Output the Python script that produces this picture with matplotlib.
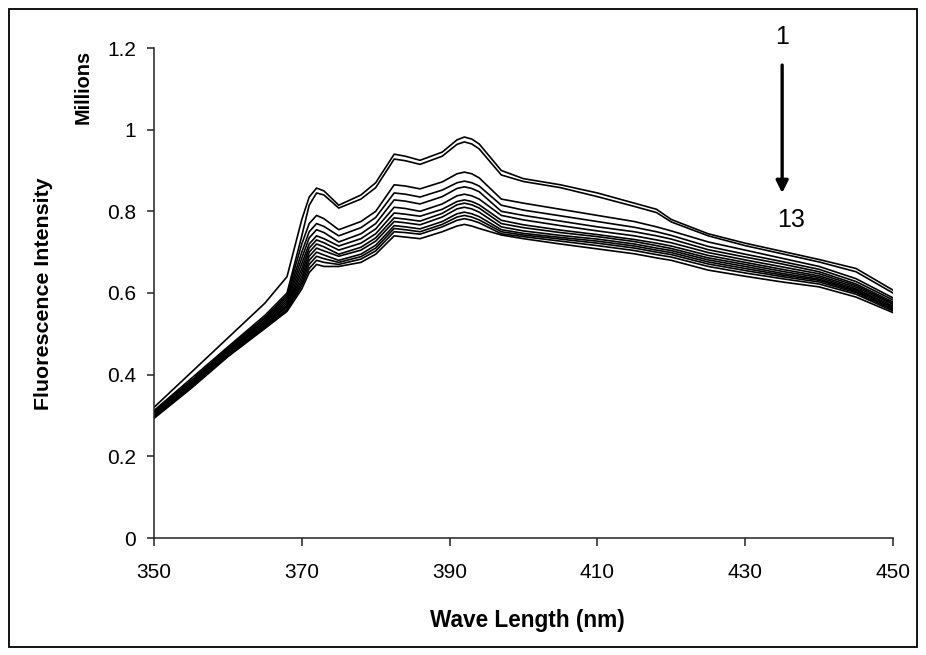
import matplotlib
matplotlib.use("Agg")
import matplotlib.pyplot as plt
from matplotlib.patches import Rectangle
from matplotlib.ticker import FuncFormatter

plt.rcParams['font.family'] = ['Liberation Sans', 'DejaVu Sans']

wavelength = [350, 355, 360, 365, 368, 370, 371, 372, 373, 375, 378, 380, 382.5, 384, 386, 389,
              391, 392, 393, 394, 397, 400, 405, 410, 415, 418, 420, 425, 430, 435, 440, 445, 450]

# Fluorescence intensity (millions), curves 1..13
c1 = [0.320, 0.405, 0.490, 0.575, 0.640, 0.780, 0.835, 0.857, 0.850, 0.815, 0.840, 0.870, 0.940, 0.935, 0.925, 0.945,
      0.975, 0.982, 0.977, 0.965, 0.900, 0.880, 0.865, 0.845, 0.820, 0.805, 0.780, 0.745, 0.722, 0.702, 0.682, 0.660, 0.607]
c2 = [0.312, 0.390, 0.468, 0.545, 0.600, 0.740, 0.815, 0.845, 0.840, 0.808, 0.830, 0.858, 0.928, 0.924, 0.915, 0.935,
      0.964, 0.970, 0.965, 0.953, 0.889, 0.873, 0.858, 0.836, 0.812, 0.797, 0.774, 0.740, 0.716, 0.696, 0.676, 0.652, 0.600]
c3 = [0.310, 0.385, 0.465, 0.540, 0.595, 0.720, 0.770, 0.790, 0.782, 0.755, 0.775, 0.800, 0.865, 0.862, 0.855, 0.872,
      0.892, 0.896, 0.892, 0.882, 0.830, 0.820, 0.805, 0.790, 0.775, 0.762, 0.752, 0.725, 0.705, 0.685, 0.665, 0.635, 0.588]
c4 = [0.308, 0.383, 0.462, 0.537, 0.590, 0.700, 0.750, 0.770, 0.763, 0.740, 0.760, 0.785, 0.845, 0.842, 0.835, 0.852,
      0.870, 0.874, 0.870, 0.862, 0.815, 0.803, 0.789, 0.775, 0.761, 0.750, 0.741, 0.714, 0.695, 0.677, 0.658, 0.628, 0.583]
c5 = [0.306, 0.381, 0.460, 0.533, 0.585, 0.685, 0.735, 0.755, 0.748, 0.725, 0.745, 0.770, 0.828, 0.825, 0.818, 0.836,
      0.856, 0.860, 0.856, 0.848, 0.800, 0.790, 0.776, 0.762, 0.750, 0.740, 0.732, 0.706, 0.688, 0.671, 0.652, 0.622, 0.578]
c6 = [0.304, 0.379, 0.458, 0.530, 0.580, 0.672, 0.720, 0.740, 0.733, 0.715, 0.733, 0.757, 0.810, 0.807, 0.800, 0.818,
      0.838, 0.842, 0.838, 0.830, 0.790, 0.779, 0.765, 0.752, 0.740, 0.730, 0.723, 0.699, 0.681, 0.664, 0.647, 0.618, 0.575]
c7 = [0.302, 0.377, 0.455, 0.527, 0.575, 0.660, 0.710, 0.730, 0.723, 0.705, 0.722, 0.745, 0.796, 0.793, 0.788, 0.805,
      0.824, 0.828, 0.824, 0.816, 0.778, 0.767, 0.754, 0.743, 0.731, 0.722, 0.715, 0.692, 0.675, 0.658, 0.642, 0.614, 0.572]
c8 = [0.300, 0.375, 0.453, 0.525, 0.570, 0.650, 0.700, 0.720, 0.713, 0.695, 0.712, 0.735, 0.784, 0.781, 0.776, 0.795,
      0.816, 0.820, 0.816, 0.808, 0.770, 0.760, 0.748, 0.738, 0.726, 0.716, 0.709, 0.686, 0.670, 0.653, 0.638, 0.610, 0.568]
c9 = [0.299, 0.374, 0.452, 0.523, 0.568, 0.640, 0.690, 0.710, 0.703, 0.690, 0.705, 0.727, 0.775, 0.772, 0.767, 0.786,
      0.806, 0.810, 0.806, 0.798, 0.762, 0.752, 0.741, 0.732, 0.720, 0.710, 0.704, 0.681, 0.665, 0.648, 0.634, 0.607, 0.565]
c10 = [0.297, 0.372, 0.450, 0.520, 0.565, 0.632, 0.680, 0.700, 0.693, 0.680, 0.695, 0.717, 0.765, 0.762, 0.757, 0.775,
       0.794, 0.798, 0.794, 0.787, 0.755, 0.746, 0.736, 0.727, 0.715, 0.705, 0.699, 0.676, 0.660, 0.644, 0.631, 0.604, 0.562]
c11 = [0.296, 0.370, 0.448, 0.518, 0.560, 0.625, 0.670, 0.690, 0.684, 0.675, 0.689, 0.710, 0.758, 0.755, 0.750, 0.768,
       0.786, 0.790, 0.786, 0.779, 0.750, 0.742, 0.732, 0.722, 0.710, 0.700, 0.694, 0.671, 0.655, 0.640, 0.627, 0.601, 0.559]
c12 = [0.295, 0.368, 0.446, 0.516, 0.558, 0.618, 0.660, 0.680, 0.675, 0.670, 0.683, 0.703, 0.750, 0.748, 0.744, 0.762,
       0.778, 0.782, 0.778, 0.772, 0.745, 0.738, 0.727, 0.716, 0.704, 0.694, 0.688, 0.665, 0.649, 0.635, 0.622, 0.597, 0.556]
c13 = [0.293, 0.366, 0.444, 0.513, 0.555, 0.610, 0.650, 0.670, 0.665, 0.665, 0.675, 0.695, 0.740, 0.737, 0.733, 0.750,
       0.764, 0.768, 0.764, 0.758, 0.742, 0.733, 0.720, 0.708, 0.696, 0.686, 0.680, 0.656, 0.641, 0.627, 0.615, 0.590, 0.552]

curves = [c1, c2, c3, c4, c5, c6, c7, c8, c9, c10, c11, c12, c13]

x_ticks = [350, 370, 390, 410, 430, 450]
y_ticks = [0, 0.2, 0.4, 0.6, 0.8, 1.0, 1.2]

fig = plt.figure(figsize=(9.26, 6.55), dpi=100)
ax = fig.add_axes([154/926, 1-538/655, (893-154)/926, (538-48)/655])

for c in curves:
    ax.plot(wavelength, c, color='black', lw=1.2, solid_joinstyle='round')

ax.set_xlim(350, 450)
ax.set_ylim(0, 1.2)
ax.set_xticks(x_ticks)
ax.set_yticks(y_ticks)
ax.yaxis.set_major_formatter(FuncFormatter(lambda v, p: f'{v:g}'))
for s in ['top', 'right']:
    ax.spines[s].set_visible(False)
for s in ['left', 'bottom']:
    ax.spines[s].set_linewidth(1.1)
    ax.spines[s].set_color('#222222')
ax.tick_params(axis='y', direction='out', length=5, width=1.1, pad=8, labelsize=15, color='#222222')
ax.tick_params(axis='x', direction='out', length=6, width=1.1, pad=12, labelsize=15, color='#222222')

fig.text(44/926, 1-294/655, 'Fluorescence Intensity', rotation=90, ha='center', va='center',
         fontsize=15.4, fontweight='bold')
fig.text(527/926, 1-620/655, 'Wave Length (nm)', ha='center', va='center',
         fontsize=16.3, fontweight='bold')
fig.text(83/926, 1-87/655, 'Millions', rotation=90, ha='center', va='center',
         fontsize=14.3, fontweight='bold')

# annotation arrow 1 -> 13
ax.annotate('', xy=(435.0, 0.838), xytext=(435.0, 1.165),
            arrowprops=dict(arrowstyle='-|>', color='black', lw=2.4, mutation_scale=18),
            annotation_clip=False)
ax.text(435.0, 1.227, '1', ha='center', va='center', fontsize=18, clip_on=False)
ax.text(436.2, 0.779, '13', ha='center', va='center', fontsize=18, clip_on=False)

fig.patches.append(Rectangle((9/926, 8/655), 1-18/926, 1-17/655, transform=fig.transFigure,
                             fill=False, edgecolor='black', lw=1.3))

fig.savefig('out.png', dpi=100)
